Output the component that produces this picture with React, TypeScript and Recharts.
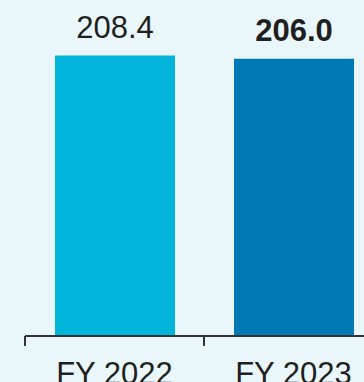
import { Bar, BarChart, Cell, LabelList, XAxis, YAxis } from 'recharts';

const categories = ['FY 2022', 'FY 2023'];
const values = [208.4, 206.0];
const barColors = ['#00b4da', '#0079b5'];
const boldLabel = [false, true];

const data = categories.map((name, i) => ({ name, value: values[i] }));

const CHART_W = 383;
const MARGIN_LEFT = 25;
const BAND = (CHART_W - MARGIN_LEFT) / categories.length;
const FONT = '"Liberation Sans", Arial, sans-serif';

function CategoryTick(props: any) {
  const { x, y, payload, index } = props;
  const left = x - BAND / 2;
  return (
    <g>
      <line x1={left} x2={left} y1={y} y2={y + 10} stroke="#333" strokeWidth={2} />
      {index === categories.length - 1 && (
        <line x1={x + BAND / 2} x2={x + BAND / 2} y1={y} y2={y + 10} stroke="#333" strokeWidth={2} />
      )}
      <text x={x} y={384} textAnchor="middle" fontSize={31} fill="#1f1f1f" fontFamily={FONT}>
        {payload.value}
      </text>
    </g>
  );
}

function ValueLabel(props: any) {
  const { x, y, width, value, index } = props;
  return (
    <text
      x={x + width / 2}
      y={y - 18}
      textAnchor="middle"
      fontSize={31}
      fontWeight={boldLabel[index] ? 'bold' : 'normal'}
      fill="#1f1f1f"
      fontFamily={FONT}
    >
      {value.toFixed(1)}
    </text>
  );
}

export default function App() {
  return (
    <div
      style={{
        position: 'absolute',
        left: 0,
        top: 0,
        width: 364,
        height: 382,
        overflow: 'hidden',
        background: '#e9f7fb',
      }}
    >
      <BarChart
        width={CHART_W}
        height={382}
        data={data}
        margin={{ top: 40, right: 0, left: MARGIN_LEFT, bottom: 0 }}
        style={{ overflow: 'visible' }}
      >
        <YAxis hide domain={[0, 220]} />
        <XAxis
          dataKey="name"
          height={46}
          axisLine={{ stroke: '#333', strokeWidth: 2 }}
          tickLine={false}
          tickSize={0}
          tickMargin={0}
          tick={<CategoryTick />}
          interval={0}
        />
        <Bar dataKey="value" barSize={120} isAnimationActive={false}>
          {data.map((d, i) => (
            <Cell key={d.name} fill={barColors[i]} />
          ))}
          <LabelList dataKey="value" content={<ValueLabel />} />
        </Bar>
      </BarChart>
    </div>
  );
}
